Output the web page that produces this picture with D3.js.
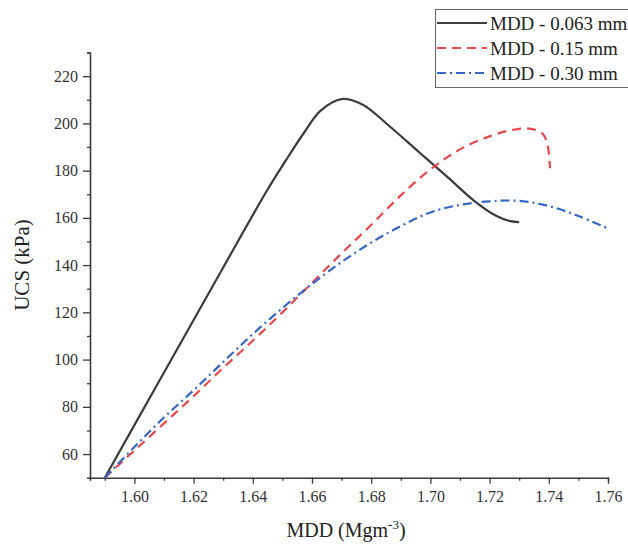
<!DOCTYPE html>
<html>
<head>
<meta charset="utf-8">
<script src="https://cdn.jsdelivr.net/npm/d3@7"></script>
<style>
  body { margin: 0; background: #fff; }
  svg { display: block; font-family: "Liberation Serif", "Times New Roman", serif; }
</style>
</head>
<body>
<script>
// MDD (Mgm-3) vs UCS (kPa)
const mdd063X = [1.590, 1.610, 1.630, 1.645, 1.651, 1.657, 1.663, 1.670, 1.677, 1.686, 1.696, 1.706, 1.715, 1.722, 1.727, 1.730];
const mdd063Y = [50, 94.5, 139, 172, 184, 195.5, 205.5, 210.3, 208, 199, 188, 177, 167, 161, 158.6, 158.2];

const mdd015X = [1.590, 1.600, 1.610, 1.620, 1.630, 1.640, 1.650, 1.660, 1.670, 1.680, 1.690, 1.700, 1.710, 1.720, 1.728, 1.734, 1.738, 1.7397, 1.7404];
const mdd015Y = [50, 61.5, 73, 84.5, 96.5, 108, 120, 132.5, 145, 157, 169.5, 180.5, 189, 194.5, 197.3, 197.7, 195.5, 190, 181];

const mdd030X = [1.590, 1.600, 1.610, 1.620, 1.630, 1.640, 1.650, 1.660, 1.670, 1.680, 1.690, 1.700, 1.710, 1.720, 1.730, 1.740, 1.750, 1.760];
const mdd030Y = [50, 63, 75.5, 87, 99, 110.8, 121.8, 132, 141.3, 149.5, 156.5, 162.3, 165.5, 167, 167.2, 165, 160.8, 155.5];

const seriesNames = ["MDD - 0.063 mm", "MDD - 0.15 mm", "MDD - 0.30 mm"];
const xTicks = [1.60, 1.62, 1.64, 1.66, 1.68, 1.70, 1.72, 1.74, 1.76];
const yTicks = [60, 80, 100, 120, 140, 160, 180, 200, 220];

const W = 628, H = 545;
const svg = d3.select("body").append("svg").attr("width", W).attr("height", H);

const x = d3.scaleLinear().domain([1.585, 1.76]).range([90, 608]);
const y = d3.scaleLinear().domain([50, 230]).range([477.7, 52.5]);

const axisColor = "#3a3a3a";

// x axis: minor ticks every 0.01, longer at labelled ones
const gx = svg.append("g").attr("transform", `translate(0,${y(50)})`);
gx.call(d3.axisBottom(x).tickValues(d3.range(1.59, 1.7601, 0.01)).tickSize(3).tickFormat(""));
gx.call(g => g.selectAll(".tick").filter(d => Math.round(d * 100) % 2 === 0).select("line").attr("y2", 6));
gx.append("g").call(d3.axisBottom(x).tickValues(xTicks).tickSize(0).tickPadding(13).tickFormat(d3.format(".2f")))
  .call(g => g.select(".domain").remove());

// y axis
const gy = svg.append("g").attr("transform", `translate(${x(1.585)},0)`);
gy.call(d3.axisLeft(y).tickValues(d3.range(60, 231, 10)).tickSize(3).tickFormat(""));
gy.call(g => g.selectAll(".tick").filter(d => d % 20 === 0).select("line").attr("x2", -7));
gy.append("g").call(d3.axisLeft(y).tickValues(yTicks).tickSize(0).tickPadding(12))
  .call(g => g.select(".domain").remove());

svg.selectAll(".domain").attr("stroke", axisColor).attr("stroke-width", 1.6);
svg.selectAll(".tick line").attr("stroke", axisColor).attr("stroke-width", 1.3);
svg.selectAll(".tick text").attr("font-size", 16).attr("fill", "#333")
  .attr("font-family", "Liberation Serif, serif");

// axis titles
const xTitle = svg.append("text").attr("x", 346).attr("y", 537).attr("text-anchor", "middle")
  .attr("font-size", 20).attr("fill", "#222");
xTitle.append("tspan").text("MDD (Mgm");
xTitle.append("tspan").attr("dy", -8).attr("font-size", 13).text("-3");
xTitle.append("tspan").attr("dy", 8).text(")");

svg.append("text").attr("transform", "translate(29,265) rotate(-90)").attr("text-anchor", "middle")
  .attr("font-size", 21).attr("fill", "#222").text("UCS (kPa)");

// lines
const styles = [
  { color: "#3b3b3b", dash: null, w: 2.2 },
  { color: "#e5484d", dash: "9,6", w: 2.2 },
  { color: "#3567c2", dash: "9,4,2,4", w: 2.2 }
];
const data = [
  d3.zip(mdd063X, mdd063Y),
  d3.zip(mdd015X, mdd015Y),
  d3.zip(mdd030X, mdd030Y)
];
const line = d3.line().x(d => x(d[0])).y(d => y(d[1])).curve(d3.curveCatmullRom.alpha(0.5));

data.forEach((pts, i) => {
  svg.append("path").datum(pts)
    .attr("d", line)
    .attr("fill", "none")
    .attr("stroke", styles[i].color)
    .attr("stroke-width", styles[i].w)
    .attr("stroke-dasharray", styles[i].dash);
});

// legend (cut off by the right edge like the source)
const lg = svg.append("g");
lg.append("rect").attr("x", 435.5).attr("y", 9.5).attr("width", 220).attr("height", 78)
  .attr("fill", "#fff").attr("stroke", "#666").attr("stroke-width", 1);
seriesNames.forEach((name, i) => {
  const yy = 23 + i * 25;
  lg.append("line").attr("x1", 437).attr("x2", 487).attr("y1", yy).attr("y2", yy)
    .attr("stroke", styles[i].color).attr("stroke-width", 2)
    .attr("stroke-dasharray", styles[i].dash);
  lg.append("text").attr("x", 490).attr("y", yy + 6.5).attr("font-size", 19)
    .attr("fill", "#222").text(name);
});
</script>
</body>
</html>
